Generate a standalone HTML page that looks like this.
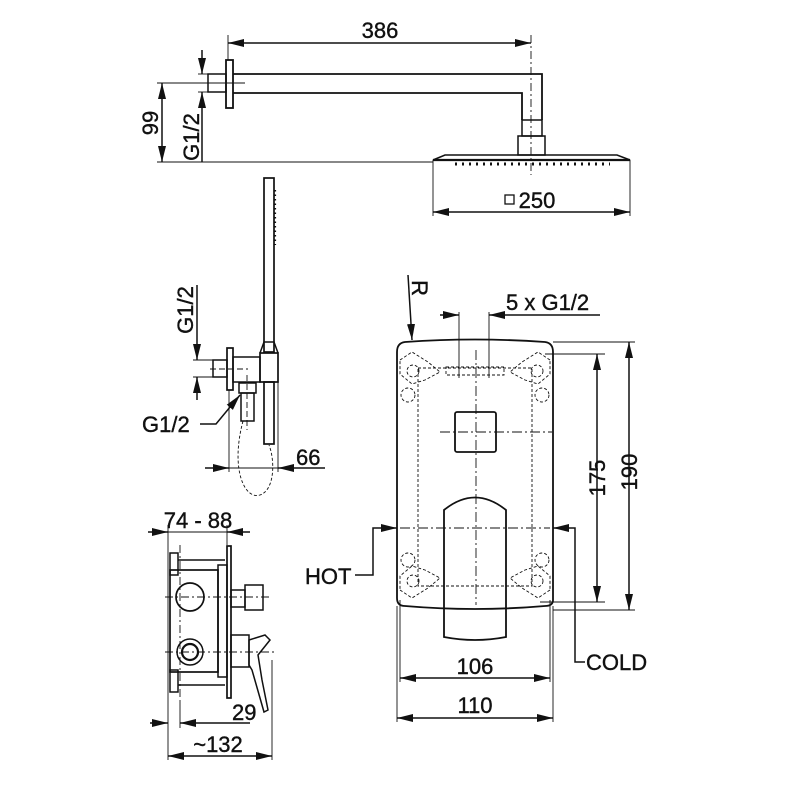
<!DOCTYPE html>
<html><head><style>body{margin:0;background:#fff}svg{display:block}text{font-family:"Liberation Sans",Arial,sans-serif;fill:#111}</style></head><body>
<svg width="800" height="800" viewBox="0 0 800 800" xmlns="http://www.w3.org/2000/svg">
<defs>
<marker id="a" viewBox="0 0 16 8" refX="16" refY="4" markerWidth="16" markerHeight="8" markerUnits="userSpaceOnUse" orient="auto-start-reverse"><path d="M0,0 L16,4 L0,8z" fill="#111"/></marker>
</defs>
<g stroke="#111" stroke-width="1.5" fill="none">
<line x1="228" y1="43" x2="531" y2="43" marker-start="url(#a)" marker-end="url(#a)"/>
<line x1="228" y1="35" x2="228" y2="60" stroke-width="0.9"/>
<line x1="531" y1="35" x2="531" y2="175" stroke-width="0.9" stroke-dasharray="8,3,2,3"/>
<rect x="226" y="60" width="7" height="48" stroke-width="1.8"/>
<rect x="208" y="74" width="18" height="18"/>
<polyline points="233,74 542,74 542,120" stroke-width="1.8"/>
<polyline points="233,93 522,93 522,120" stroke-width="1.8"/>
<rect x="522" y="120" width="20" height="16"/>
<rect x="518" y="136" width="27" height="19"/>
<path d="M445,155 L617,155 L630,160 L433,160 Z" stroke-width="1.6"/>
<line x1="433" y1="160" x2="630" y2="160" stroke-width="2.2"/>
<line x1="455" y1="164" x2="610" y2="164" stroke-width="3" stroke-dasharray="2,5"/>
<line x1="157" y1="162" x2="433" y2="162" stroke-width="0.9"/>
<line x1="157" y1="83" x2="245" y2="83" stroke-width="0.9"/>
<line x1="162" y1="83" x2="162" y2="162" marker-start="url(#a)" marker-end="url(#a)"/>
<line x1="202" y1="50" x2="202" y2="74" marker-end="url(#a)"/>
<line x1="202" y1="162" x2="202" y2="92" marker-end="url(#a)"/>
<line x1="198" y1="74" x2="208" y2="74" stroke-width="0.9"/>
<line x1="198" y1="92" x2="208" y2="92" stroke-width="0.9"/>
<line x1="433" y1="160" x2="433" y2="216" stroke-width="0.9"/>
<line x1="630" y1="160" x2="630" y2="216" stroke-width="0.9"/>
<line x1="433" y1="212" x2="630" y2="212" marker-start="url(#a)" marker-end="url(#a)"/>
<rect x="505" y="195" width="9" height="9" stroke-width="1.3"/>

<rect x="264" y="178" width="10" height="174" stroke-width="1.7"/>
<line x1="275" y1="190" x2="275" y2="245" stroke-width="2.2" stroke-dasharray="1.5,3"/>
<path d="M260,353 L264,342 L274,342 L278,353" />
<rect x="260" y="353" width="18" height="29" stroke-width="1.7"/>
<rect x="264" y="382" width="10" height="62" stroke-width="1.7"/>
<rect x="233" y="357" width="27" height="25"/>
<rect x="227" y="348" width="6" height="42" stroke-width="1.7"/>
<rect x="213" y="360" width="14" height="17"/>
<rect x="239" y="383" width="17" height="10"/>
<rect x="241" y="393" width="13" height="28"/>
<path d="M243,421 C230,470 245,500 260,495 C275,490 275,460 269,445" stroke-width="0.9" stroke-dasharray="3,2"/>
<line x1="210" y1="369" x2="248" y2="369" stroke-width="0.9" stroke-dasharray="6,3"/>
<line x1="247" y1="375" x2="247" y2="430" stroke-width="0.9" stroke-dasharray="6,3"/>
<line x1="197" y1="285" x2="197" y2="360" marker-end="url(#a)"/>
<line x1="197" y1="400" x2="197" y2="377" marker-end="url(#a)"/>
<line x1="193" y1="360" x2="213" y2="360" stroke-width="0.9"/>
<line x1="193" y1="377" x2="213" y2="377" stroke-width="0.9"/>
<polyline points="200,424 216,424 240,395" marker-end="url(#a)"/>
<line x1="229" y1="390" x2="229" y2="472" stroke-width="0.9"/>
<line x1="278" y1="382" x2="278" y2="472" stroke-width="0.9"/>
<line x1="205" y1="468" x2="229" y2="468" marker-end="url(#a)"/>
<line x1="325" y1="468" x2="278" y2="468" marker-end="url(#a)"/>
<line x1="229" y1="468" x2="278" y2="468" stroke-width="0.9"/>

<path d="M405,342 Q475,337 545,342 Q553,343 553,352 L553,600 Q553,606 545,606 Q475,612 405,606 Q397,606 397,598 L397,352 Q397,343 405,342 Z" stroke-width="1.8"/>
<g stroke-width="0.9" stroke-dasharray="3,2">
<rect x="418" y="368" width="114" height="218"/>
<path d="M400,360 L412,352 L428,362 L440,372 L425,380 L412,384 L400,374 Z"/>
<path d="M550,360 L538,352 L522,362 L510,372 L525,380 L538,384 L550,374 Z"/>
<path d="M400,590 L412,598 L428,588 L440,578 L425,570 L412,566 L400,576 Z"/>
<path d="M550,590 L538,598 L522,588 L510,578 L525,570 L538,566 L550,576 Z"/>
<circle cx="413" cy="371" r="6"/><circle cx="537" cy="371" r="6"/>
<circle cx="413" cy="581" r="6"/><circle cx="537" cy="581" r="6"/>
<circle cx="408" cy="395" r="7"/><circle cx="542" cy="395" r="7"/>
<circle cx="408" cy="560" r="7"/><circle cx="542" cy="560" r="7"/>
<rect x="446" y="367" width="58" height="8"/>
</g>
<rect x="455" y="412" width="41" height="40" rx="2" stroke-width="1.8"/>
<path d="M444,637 L444,510 Q475,485 506,510 L506,637 Q475,643 444,637 Z" stroke-width="1.8"/>
<g stroke-width="0.9" stroke-dasharray="10,3,2,3">
<line x1="476" y1="350" x2="476" y2="605"/>
<line x1="440" y1="432" x2="552" y2="432"/>
<line x1="400" y1="528" x2="550" y2="528"/>
</g>
<line x1="408" y1="275" x2="412" y2="340" marker-end="url(#a)"/>
<line x1="440" y1="315" x2="459" y2="315" marker-end="url(#a)"/>
<line x1="600" y1="315" x2="489" y2="315" marker-end="url(#a)"/>
<line x1="459" y1="312" x2="459" y2="378" stroke-width="0.9"/>
<line x1="489" y1="312" x2="489" y2="378" stroke-width="0.9"/>
<line x1="545" y1="354" x2="605" y2="354" stroke-width="0.9"/>
<line x1="540" y1="602" x2="605" y2="602" stroke-width="0.9"/>
<line x1="553" y1="342" x2="635" y2="342" stroke-width="0.9"/>
<line x1="553" y1="610" x2="635" y2="610" stroke-width="0.9"/>
<line x1="597" y1="354" x2="597" y2="602" marker-start="url(#a)" marker-end="url(#a)"/>
<line x1="629" y1="342" x2="629" y2="610" marker-start="url(#a)" marker-end="url(#a)"/>
<polyline points="355,575 373,575 373,528 397,528" marker-end="url(#a)"/>
<polyline points="585,662 575,662 575,528 553,528" marker-end="url(#a)"/>
<line x1="400" y1="600" x2="400" y2="682" stroke-width="0.9"/>
<line x1="550" y1="600" x2="550" y2="682" stroke-width="0.9"/>
<line x1="397" y1="606" x2="397" y2="722" stroke-width="0.9"/>
<line x1="553" y1="606" x2="553" y2="722" stroke-width="0.9"/>
<line x1="400" y1="678" x2="550" y2="678" marker-start="url(#a)" marker-end="url(#a)"/>
<line x1="397" y1="718" x2="553" y2="718" marker-start="url(#a)" marker-end="url(#a)"/>

<line x1="148" y1="532" x2="168" y2="532" marker-end="url(#a)"/>
<line x1="250" y1="532" x2="227" y2="532" marker-end="url(#a)"/>
<line x1="168" y1="532" x2="227" y2="532" stroke-width="0.9"/>
<line x1="168" y1="525" x2="168" y2="760" stroke-width="0.9"/>
<line x1="227" y1="525" x2="227" y2="545" stroke-width="0.9"/>
<rect x="227" y="546" width="4" height="152" stroke-width="1.7"/>
<rect x="170" y="570" width="48" height="102" stroke-width="1.7"/>
<rect x="218" y="565" width="9" height="112"/>
<rect x="170" y="553" width="8" height="22"/><rect x="170" y="670" width="8" height="22"/>
<line x1="178" y1="560" x2="225" y2="560"/><line x1="178" y1="685" x2="225" y2="685"/>
<circle cx="190" cy="597" r="14" stroke-width="1.7"/>
<circle cx="190" cy="652" r="13"/><circle cx="190" cy="652" r="8" stroke-width="2.2"/>
<rect x="231" y="590" width="14" height="17"/>
<rect x="245" y="585" width="18" height="25"/>
<rect x="231" y="635" width="18" height="32"/>
<path d="M249,640 L265,635 L270,640 L258,655 L262,680 L268,710 L264,712 L252,670 L249,665 Z"/>
<line x1="180" y1="545" x2="180" y2="700" stroke-width="0.9" stroke-dasharray="8,3,2,3"/>
<line x1="165" y1="597" x2="270" y2="597" stroke-width="0.9" stroke-dasharray="8,3,2,3"/>
<line x1="165" y1="652" x2="275" y2="652" stroke-width="0.9" stroke-dasharray="8,3,2,3"/>
<line x1="150" y1="723" x2="168" y2="723" marker-end="url(#a)"/>
<line x1="250" y1="723" x2="180" y2="723" marker-end="url(#a)"/>
<line x1="180" y1="700" x2="180" y2="728" stroke-width="0.9"/>
<line x1="272" y1="660" x2="272" y2="760" stroke-width="0.9"/>
<line x1="168" y1="756" x2="272" y2="756" marker-start="url(#a)" marker-end="url(#a)"/>
</g>
<g font-size="22" stroke="#111" stroke-width="0.4">
<text x="380" y="38" text-anchor="middle">386</text>
<text x="537" y="208" text-anchor="middle">250</text>
<text transform="translate(158,123) rotate(-90)" text-anchor="middle">99</text>
<text transform="translate(199,137) rotate(-90)" text-anchor="middle">G1/2</text>
<text transform="translate(193,310) rotate(-90)" text-anchor="middle">G1/2</text>
<text x="142" y="432">G1/2</text>
<text x="296" y="465">66</text>
<text transform="translate(412,288) rotate(90)" text-anchor="middle">R</text>
<text x="506" y="310">5 x G1/2</text>
<text transform="translate(605,478) rotate(-90)" text-anchor="middle">175</text>
<text transform="translate(637,472) rotate(-90)" text-anchor="middle">190</text>
<text x="305" y="584">HOT</text>
<text x="586" y="670">COLD</text>
<text x="475" y="674" text-anchor="middle">106</text>
<text x="475" y="713" text-anchor="middle">110</text>
<text x="198" y="528" text-anchor="middle">74 - 88</text>
<text x="232" y="720">29</text>
<text x="218" y="752" text-anchor="middle">~132</text>
</g>
</svg>
</body></html>
